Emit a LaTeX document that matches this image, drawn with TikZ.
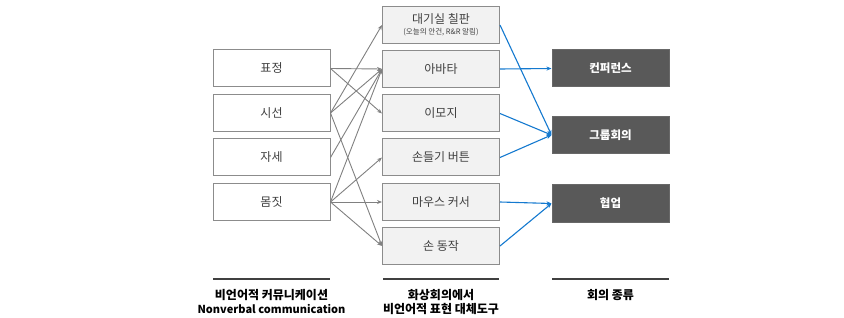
\documentclass[tikz,border=0pt]{standalone}
\usepackage{fontspec}
\setmainfont{Noto Sans CJK KR}
\usetikzlibrary{arrows.meta}
\definecolor{boxline}{HTML}{8C8C8C}
\definecolor{midfill}{HTML}{F2F2F2}
\definecolor{darkbox}{HTML}{595959}
\definecolor{graylink}{HTML}{808080}
\definecolor{bluelink}{HTML}{1479CF}
\definecolor{txt}{HTML}{404040}
\definecolor{rulecol}{HTML}{404040}
\tikzset{
  basebox/.style={rectangle, minimum width=117pt, minimum height=37pt, inner sep=0pt, line width=1pt, font=\fontsize{12}{13}\selectfont, text=txt},
  leftbox/.style={basebox, draw=boxline, fill=white},
  midbox/.style={basebox, draw=boxline, fill=midfill},
  rightbox/.style={basebox, draw=darkbox!60!gray, fill=darkbox, text=white, font=\fontsize{11.5}{13}\selectfont\bfseries},
  glink/.style={draw=graylink, line width=0.9pt, -{Stealth[length=5pt,width=4pt]}},
  blink/.style={draw=bluelink, line width=1.1pt, -{Stealth[length=5pt,width=4pt]}},
  rulel/.style={draw=rulecol, line width=1.2pt},
  lab/.style={align=center, font=\fontsize{12}{14}\selectfont\bfseries, text=black, inner sep=0pt}
}
\begin{document}
\begin{tikzpicture}[x=1pt,y=-1pt]
\useasboundingbox (0,0) rectangle (844,318);
% left column
\node[leftbox] (pyo) at (271.5,68.5) {표정};
\node[leftbox] (si) at (271.5,113) {시선};
\node[leftbox] (ja) at (271.5,157.5) {자세};
\node[leftbox] (mom) at (271.5,202) {몸짓};
% middle column
\node[midbox, align=center] (dae) at (441,25) {대기실 칠판\\[-2pt]{\fontsize{7.5}{8}\selectfont (오늘의 안건, R\&R 알림)}};
\node[midbox] (ava) at (441,69) {아바타};
\node[midbox] (emo) at (441,113.5) {이모지};
\node[midbox] (hand) at (441,157.5) {손들기 버튼};
\node[midbox] (mouse) at (441,202) {마우스 커서};
\node[midbox] (gest) at (441,246) {손 동작};
% right column
\node[rightbox] (conf) at (610.5,68.5) {컨퍼런스};
\node[rightbox] (group) at (610.5,135) {그룹회의};
\node[rightbox] (collab) at (610.5,203.5) {협업};
% gray links
\draw[glink] (pyo.east) -- (ava.west);
\draw[glink] (pyo.east) -- (emo.west);
\draw[glink] (si.east) -- (dae.west);
\draw[glink] (si.east) -- (ava.west);
\draw[glink] (si.east) -- (gest.west);
\draw[glink] (ja.east) -- (ava.west);
\draw[glink] (mom.east) -- (ava.west);
\draw[glink] (mom.east) -- (hand.west);
\draw[glink] (mom.east) -- (mouse.west);
\draw[glink] (mom.east) -- (gest.west);
% blue links
\draw[blink] (dae.east) -- (group.west);
\draw[blink] (ava.east) -- (conf.west);
\draw[blink] (emo.east) -- (group.west);
\draw[blink] (hand.east) -- (group.west);
\draw[blink] (mouse.east) -- (collab.west);
\draw[blink] (gest.east) -- (collab.west);
% bottom rules and labels
\draw[rulel] (213,279) -- (330,279);
\draw[rulel] (383,279) -- (499,279);
\draw[rulel] (552,279) -- (669,279);
\node[lab] (l1) at (271.5,302) {비언어적 커뮤니케이션\\{\fontsize{11}{14}\selectfont Nonverbal communication}};
\node[lab] (l2) at (441,302) {화상회의에서\\비언어적 표현 대체도구};
\node[lab] (l3) at (610.5,295) {회의 종류};
\end{tikzpicture}
\end{document}
